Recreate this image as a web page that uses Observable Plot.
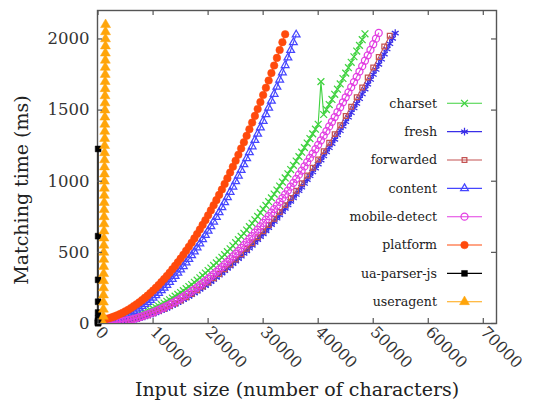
<!DOCTYPE html>
<html><head><meta charset="utf-8">
<script src="https://cdn.jsdelivr.net/npm/d3@7"></script>
<script src="https://cdn.jsdelivr.net/npm/@observablehq/plot@0.6"></script>
<style>body{margin:0;background:#fff}#chart{width:533px;height:405px}</style>
</head><body><div id="chart"></div>
<script>
// ---- data ----
const inputSizes = [0,500,1000,1500,2000,2500,3000,3500,4000,4500,5000,5500,6000,6500,7000,7500,8000,8500,9000,9500,10000,10500,11000,11500,12000,12500,13000,13500,14000,14500,15000,15500,16000,16500,17000,17500,18000,18500,19000,19500,20000,20500,21000,21500,22000,22500,23000,23500,24000,24500,25000,25500,26000,26500,27000,27500,28000,28500,29000,29500,30000,30500,31000,31500,32000,32500,33000,33500,34000,34500,35000,35500,36000,36500,37000,37500,38000,38500,39000,39500,40000,40500,41000,41500,42000,42500,43000,43500,44000,44500,45000,45500,46000,46500,47000,47500,48000,48500,49000,49500,50000,50500,51000,51500,52000,52500,53000,53500,54000];
const forwardedSizes = [0,1000,2000,3000,4000,5000,6000,7000,8000,9000,10000,11000,12000,13000,14000,15000,16000,17000,18000,19000,20000,21000,22000,23000,24000,25000,26000,27000,28000,29000,30000,31000,32000,33000,34000,35000,36000,37000,38000,39000,40000,41000,42000,43000,44000,45000,46000,47000,48000,49000,50000,51000,52000,53000];

const charset = [0,1,3,5,8,11,14,18,22,27,32,37,43,49,56,63,70,78,86,95,104,114,123,134,144,156,167,179,192,204,218,231,245,260,274,290,305,321,338,355,372,390,408,426,445,465,484,505,525,546,568,589,612,634,657,681,704,729,753,779,804,830,856,883,910,938,966,994,1023,1052,1082,1112,1142,1173,1204,1236,1268,1300,1333,1366,1400,1700,1469,1504,1539,1575,1611,1647,1684,1722,1760,1798,1836,1875,1915,1955,1995,2036];
const fresh = [0,0,1,2,3,4,6,9,11,14,18,21,25,30,34,39,45,51,57,63,70,77,85,93,101,109,118,128,137,147,158,168,179,191,202,214,227,240,253,266,280,294,309,324,339,354,370,387,403,420,438,455,473,492,510,529,549,569,589,609,630,651,673,695,717,739,762,786,809,833,858,882,907,933,958,984,1011,1038,1065,1092,1120,1148,1177,1206,1235,1264,1294,1325,1355,1386,1418,1449,1481,1514,1546,1579,1613,1647,1681,1715,1750,1785,1821,1857,1893,1929,1966,2004,2041];
const forwarded = [0,1,3,6,12,18,26,35,46,58,72,87,104,122,141,162,184,208,233,260,288,318,348,381,415,450,487,525,564,606,648,692,737,784,832,882,933,986,1040,1095,1152,1210,1270,1331,1394,1458,1524,1590,1659,1729,1800,1873,1947,2022];
const content = [10,11,14,16,20,24,30,35,42,49,58,66,76,87,98,110,122,136,150,165,180,197,214,232,250,270,290,311,333,355,378,402,427,452,478,505,533,561,591,621,651,683,715,748,781,816,851,887,924,961,999,1038,1078,1118,1160,1202,1244,1288,1332,1377,1423,1469,1516,1564,1613,1663,1713,1764,1815,1868,1921,1975,2030];
const mobileDetect = [0,0,1,2,3,5,7,10,13,16,20,24,28,33,38,44,50,57,64,71,79,87,95,104,113,123,133,143,154,165,177,189,201,214,227,240,254,269,283,299,314,330,346,363,380,397,415,434,452,471,491,510,531,551,572,594,615,638,660,683,707,730,754,779,804,829,855,881,907,934,962,989,1017,1046,1075,1104,1134,1164,1194,1225,1256,1288,1320,1352,1385,1418,1451,1485,1520,1555,1590,1625,1661,1697,1734,1771,1809,1847,1885,1923,1963,2002,2042];
const platform = [20,23,27,32,37,43,50,58,67,76,86,97,109,122,135,149,164,180,196,214,232,251,270,291,312,334,357,381,405,430,456,483,511,539,568,598,629,661,693,726,760,795,831,867,904,942,981,1020,1061,1102,1144,1186,1230,1274,1319,1365,1412,1459,1507,1556,1606,1657,1708,1760,1813,1867,1922,1977,2033];
const uaParserSizes = [0,2,4,6,8,10,12,14,16,18];
const uaParser = [2,5,10,19,38,77,153,307,614,1227];
const useragentSizes = [950,960,970,980,990,1000,1010,1020,1030,1040,1050,1060,1070,1080,1090,1100,1110,1120,1130,1140,1150,1160,1170,1180,1190,1200,1210,1220,1230,1240,1250,1260,1270,1280,1290,1300,1310,1320,1330,1340,1350,1360,1370];
const useragent = [0,50,100,150,200,250,300,350,400,450,500,550,600,650,700,750,800,850,900,950,1000,1050,1100,1150,1200,1250,1300,1350,1400,1450,1500,1550,1600,1650,1700,1750,1800,1850,1900,1950,2000,2050,2100];

const seriesNames = ["charset","fresh","forwarded","content","mobile-detect","platform","ua-parser-js","useragent"];
const xTicks = [0,10000,20000,30000,40000,50000,60000,70000];
const yTicks = [0,500,1000,1500,2000];
const xTitle = "Input size (number of characters)";
const yTitle = "Matching time (ms)";

// ---- styles ----
const styles = {
  "charset":       {color:"#3fd23f", symbol:"times",     r:3.2, filled:false},
  "fresh":         {color:"#3a2ee8", symbol:"asterisk",  r:3.7, filled:false},
  "forwarded":     {color:"#c45252", symbol:"square2",   r:3.0, filled:false},
  "content":       {color:"#4646ff", symbol:"triangle2", r:3.7, filled:false},
  "mobile-detect": {color:"#e23ee2", symbol:"circle",    r:3.5, filled:false},
  "platform":      {color:"#ff4a0c", symbol:"circle",    r:3.8, filled:true},
  "ua-parser-js":  {color:"#000000", symbol:"square",    r:3.3, filled:true},
  "useragent":     {color:"#ffa50a", symbol:"triangle",  r:3.7, filled:true}
};
const seriesData = {
  "charset": [inputSizes, charset],
  "fresh": [inputSizes, fresh],
  "forwarded": [forwardedSizes, forwarded],
  "content": [inputSizes, content],
  "mobile-detect": [inputSizes, mobileDetect],
  "platform": [inputSizes, platform],
  "ua-parser-js": [uaParserSizes, uaParser],
  "useragent": [useragentSizes, useragent]
};

const W = 533, H = 405, mL = 97, mT = 10, mR = 37, mB = 82;
const fw = W - mL - mR, fh = H - mT - mB;
const FONT = "DejaVu Serif";
const axisColor = "#555";

const marks = [];
for (const name of seriesNames) {
  const [xs, ys] = seriesData[name];
  const st = styles[name];
  const data = ys.map((v, i) => ({x: xs[i], y: v}));
  const clip = name !== "ua-parser-js";
  marks.push(Plot.line(data, {x: "x", y: "y", stroke: st.color, strokeWidth: 1.1, clip}));
  marks.push(Plot.dot(data, {
    x: "x", y: "y", symbol: st.symbol, r: st.r,
    fill: st.filled ? st.color : "none",
    stroke: st.color, strokeWidth: st.filled ? 0.5 : 1.25, clip
  }));
}

const chart = Plot.plot({
  width: W, height: H,
  marginLeft: mL, marginTop: mT, marginRight: mR, marginBottom: mB,
  style: {fontFamily: FONT, background: "#fff", overflow: "visible"},
  x: {domain: [-100, 72400]},
  y: {domain: [0, 2200]},
  marks: [
    Plot.frame({stroke: axisColor, strokeWidth: 1.4}),
    ...marks,
    Plot.tickX(xTicks, {x: d => d, insetTop: fh - 5, stroke: axisColor, strokeWidth: 1.2}),
    Plot.tickX(xTicks, {x: d => d, insetBottom: fh - 5, stroke: axisColor, strokeWidth: 1.2}),
    Plot.tickY(yTicks, {y: d => d, insetRight: fw - 5, stroke: axisColor, strokeWidth: 1.2}),
    Plot.tickY(yTicks, {y: d => d, insetLeft: fw - 5, stroke: axisColor, strokeWidth: 1.2}),
    Plot.axisX(xTicks, {tickSize: 0, tickRotate: 45, tickPadding: 6, fontSize: 16, fill: "#333", tickFormat: d => String(d), label: null}),
    Plot.axisY(yTicks, {tickSize: 0, tickPadding: 8, fontSize: 16.5, fill: "#333", tickFormat: d => String(d), label: null}),
    Plot.text([xTitle], {text: d => d, frameAnchor: "bottom", dy: 66, fontSize: 19, fill: "#222", textAnchor: "middle", lineAnchor: "middle"}),
    Plot.text([yTitle], {text: d => d, frameAnchor: "left", dx: -76, dy: 23, rotate: -90, fontSize: 19, fill: "#222", textAnchor: "middle", lineAnchor: "middle"})
  ]
});
document.getElementById("chart").appendChild(chart);

// ---- legend (inside the frame, right side) ----
const symMap = {times: d3.symbolTimes, asterisk: d3.symbolAsterisk, square2: d3.symbolSquare2,
  triangle2: d3.symbolTriangle2, circle: d3.symbolCircle, square: d3.symbolSquare, triangle: d3.symbolTriangle};
const svg = d3.select(chart);
const lg = svg.append("g").attr("font-family", FONT).attr("font-size", 12.6).attr("fill", "#222");
seriesNames.forEach((name, i) => {
  const st = styles[name];
  const yy = 103.3 + i * 28.35;
  lg.append("text").attr("x", 437).attr("y", yy).attr("dy", "0.35em").attr("text-anchor", "end").text(name);
  lg.append("line").attr("x1", 447).attr("x2", 482).attr("y1", yy).attr("y2", yy).attr("stroke", st.color).attr("stroke-width", 1.1);
  lg.append("path").attr("transform", `translate(464.5,${yy})`)
    .attr("d", d3.symbol(symMap[st.symbol], st.r * st.r * Math.PI)())
    .attr("fill", st.filled ? st.color : "none").attr("stroke", st.color).attr("stroke-width", st.filled ? 0.5 : 1.25);
});
</script>
</body></html>
